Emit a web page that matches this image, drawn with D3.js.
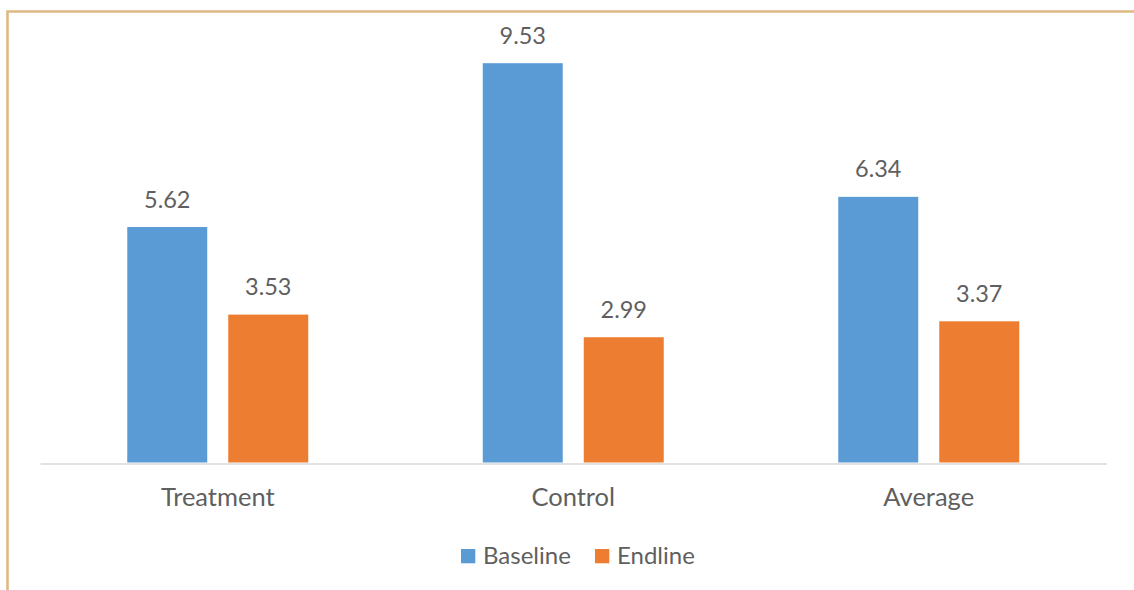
<!DOCTYPE html>
<html>
<head>
<meta charset="utf-8">
<script src="https://cdn.jsdelivr.net/npm/d3@7"></script>
<style>
  html, body { margin: 0; padding: 0; background: #fff; }
  svg { display: block; }
  text { font-family: Lato, "Open Sans", sans-serif; fill: #5f5f5f; }
</style>
</head>
<body>
<svg id="chart" width="1134" height="590"></svg>
<script>
// Mean scores by group, baseline vs endline
const categories = ["Treatment", "Control", "Average"];
const seriesNames = ["Baseline", "Endline"];
const baseline = [5.62, 9.53, 6.34];
const endline = [3.53, 2.99, 3.37];
const seriesColors = ["#5B9BD5", "#ED7D31"];

const svg = d3.select("#chart");
const W = 1134, H = 590;

// Page border (top and left edges visible)
svg.append("path")
  .attr("d", `M7.5,${H} V11.5 H${W}`)
  .attr("fill", "none")
  .attr("stroke", "#E0B883")
  .attr("stroke-width", 2.6);

const plot = { left: 40, right: 1106.5, top: 43.5, bottom: 462.5 };

const x0 = d3.scaleBand()
  .domain(categories)
  .range([plot.left, plot.right])
  .padding(0);

const x1 = d3.scaleBand()
  .domain(seriesNames)
  .range([0, x0.bandwidth()])
  .paddingInner(0.208)
  .paddingOuter(0.864);

const y = d3.scaleLinear()
  .domain([0, 10])
  .range([plot.bottom, plot.top]);

const color = d3.scaleOrdinal().domain(seriesNames).range(seriesColors);

const rows = categories.map((c, i) => ({
  category: c,
  values: [
    { series: "Baseline", value: baseline[i] },
    { series: "Endline", value: endline[i] }
  ]
}));

const groups = svg.append("g").selectAll("g")
  .data(rows)
  .join("g")
  .attr("transform", d => `translate(${x0(d.category)},0)`);

groups.selectAll("rect")
  .data(d => d.values)
  .join("rect")
  .attr("x", d => x1(d.series))
  .attr("y", d => y(d.value))
  .attr("width", x1.bandwidth())
  .attr("height", d => y(0) - y(d.value))
  .attr("fill", d => color(d.series));

groups.selectAll("text.value")
  .data(d => d.values)
  .join("text")
  .attr("class", "value")
  .attr("x", d => x1(d.series) + x1.bandwidth() / 2)
  .attr("y", d => y(d.value) - 19.5)
  .attr("text-anchor", "middle")
  .style("font-size", "23.5px")
  .text(d => d.value.toFixed(2));

// Category axis
const xAxis = svg.append("g")
  .attr("transform", `translate(0,${plot.bottom + 1})`)
  .call(d3.axisBottom(x0).tickSize(0).tickPadding(0));
xAxis.select(".domain").attr("stroke", "#D9D9D9").attr("stroke-width", 1.6);
xAxis.selectAll(".tick text")
  .attr("dy", null)
  .attr("y", 42.5)
  .style("font-size", "25.5px")
  .style("font-family", "Lato, 'Open Sans', sans-serif")
  .attr("fill", "#5f5f5f");

// Legend
const legend = svg.append("g").attr("transform", "translate(461,549)");
const legendX = [0, 134];
const items = legend.selectAll("g")
  .data(seriesNames)
  .join("g")
  .attr("transform", (d, i) => `translate(${legendX[i]},0)`);
items.append("rect")
  .attr("width", 14.3).attr("height", 14.3)
  .attr("fill", d => color(d));
items.append("text")
  .attr("x", 22)
  .attr("y", 14.5)
  .style("font-size", "24px")
  .text(d => d);
</script>
</body>
</html>
